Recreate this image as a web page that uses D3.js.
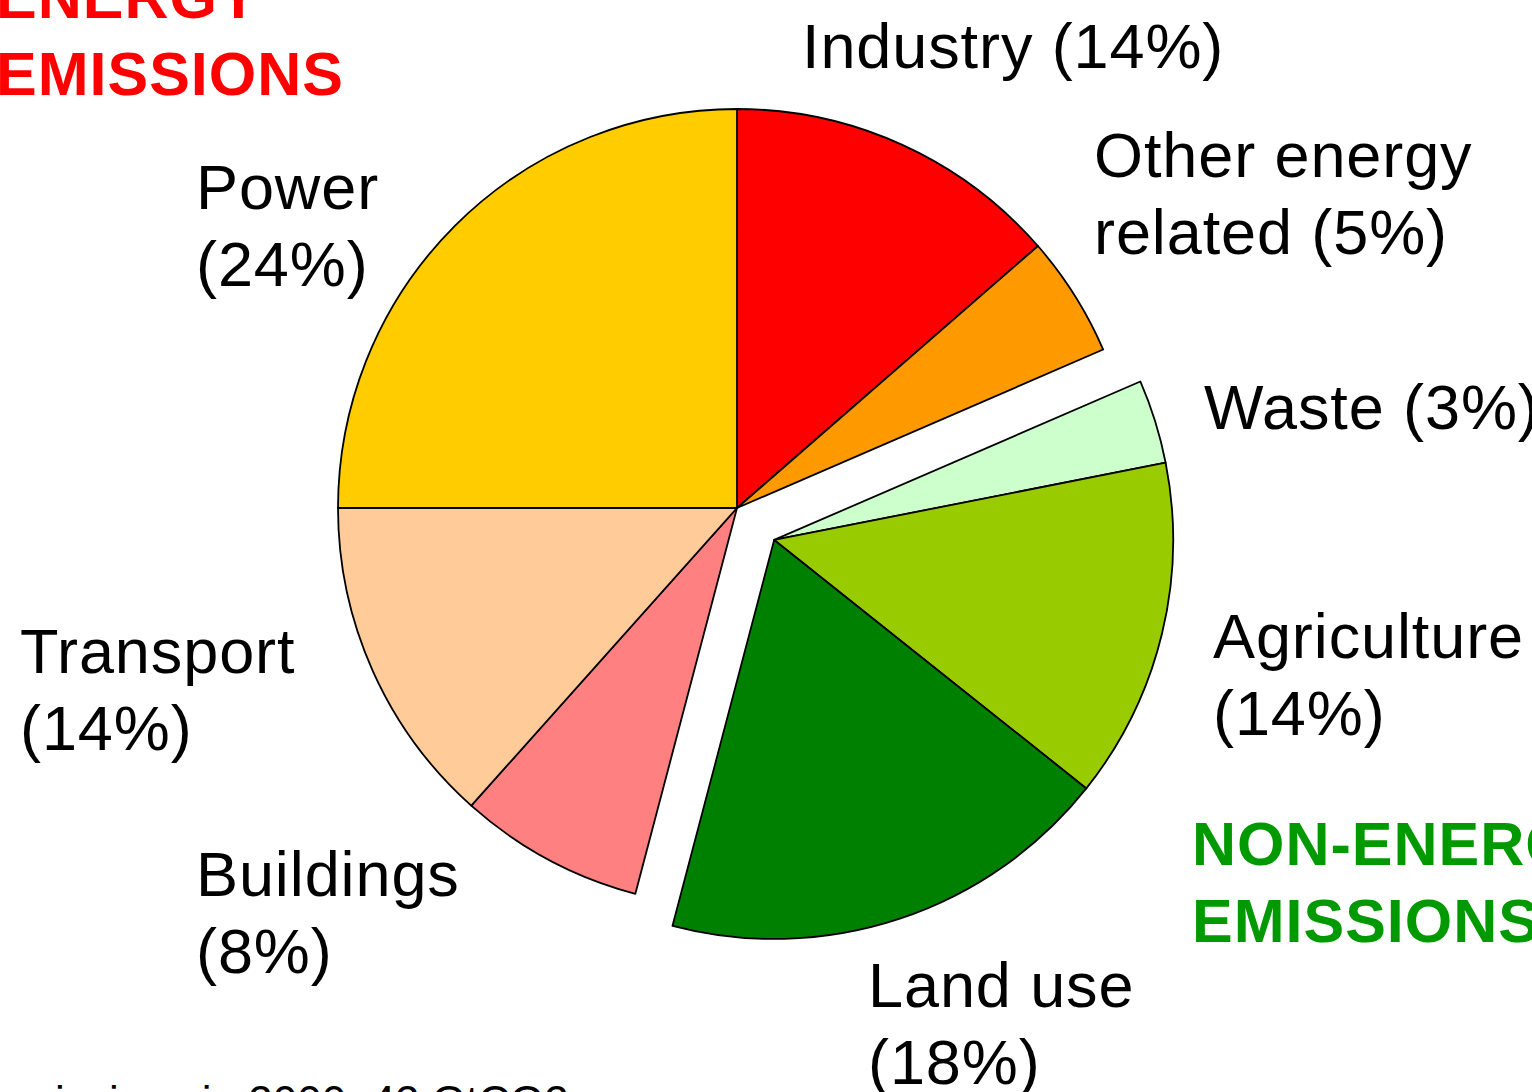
<!DOCTYPE html>
<html>
<head>
<meta charset="utf-8">
<script src="https://cdn.jsdelivr.net/npm/d3@7"></script>
<style>
  html, body { margin: 0; padding: 0; background: #fff; overflow: hidden; }
  svg { display: block; }
  text { font-family: "Liberation Sans", Arial, sans-serif; }
</style>
</head>
<body>
<script>
// Sectors, clockwise from 12 o'clock (shares)
const sectors = ['Industry', 'Other energy', 'Waste', 'Agriculture', 'Land use', 'Buildings', 'Transport', 'Power'];
const shares  = [13.6, 4.9, 3.4, 13.8, 18.4, 7.5, 13.4, 25.0];
const groups  = ['energy', 'energy', 'non', 'non', 'non', 'energy', 'energy', 'energy'];
const colors  = ['#ff0000', '#ff9900', '#ccffcc', '#99cc00', '#008000', '#ff8080', '#ffcc99', '#ffcc00'];

// label text, as printed on the chart
const labelLines = [
  ['Industry (14%)'],
  ['Other energy', 'related (5%)'],
  ['Waste (3%)'],
  ['Agriculture', '(14%)'],
  ['Land use', '(18%)'],
  ['Buildings', '(8%)'],
  ['Transport', '(14%)'],
  ['Power', '(24%)']
];
const labelPos = [
  [802, 68], [1094, 177], [1204, 429], [1213, 658],
  [868, 1007], [196, 896], [20, 673], [196, 209]
];

const groupTitles = [
  { lines: ['ENERGY', 'EMISSIONS'], color: '#ff0000', x: -4, y: 18 },
  { lines: ['NON-ENERGY', 'EMISSIONS'], color: '#009900', x: 1192, y: 865 }
];
const footnote = 'emissions in 2000: 42 GtCO2e';

const W = 1532, H = 1092;
const cx = 737, cy = 508, R = 399, explode = 49;

const svg = d3.select('body').append('svg')
  .attr('width', W).attr('height', H)
  .attr('viewBox', `0 0 ${W} ${H}`);

const data = sectors.map((s, i) => ({ name: s, value: shares[i], group: groups[i], color: colors[i] }));

const pie = d3.pie().sort(null).value(d => d.value);
const arcs = pie(data);
const arc = d3.arc().innerRadius(0).outerRadius(R);

// mid angle of the pulled-out non-energy block
const nonArcs = arcs.filter(a => a.data.group === 'non');
const midA = (d3.min(nonArcs, a => a.startAngle) + d3.max(nonArcs, a => a.endAngle)) / 2;
const offX = explode * Math.sin(midA), offY = -explode * Math.cos(midA);

const g = svg.append('g').attr('transform', `translate(${cx},${cy})`);

g.selectAll('path')
  .data(arcs)
  .join('path')
  .attr('d', arc)
  .attr('transform', d => d.data.group === 'non' ? `translate(${offX},${offY})` : null)
  .attr('fill', d => d.data.color)
  .attr('stroke', '#000')
  .attr('stroke-width', 1.8)
  .attr('stroke-linejoin', 'round');

// Sector labels
const fs = 63, lh = 77;
labelLines.forEach((lines, i) => {
  const t = svg.append('text')
    .attr('x', labelPos[i][0]).attr('y', labelPos[i][1])
    .attr('font-size', fs).attr('letter-spacing', 0.9).attr('fill', '#000');
  lines.forEach((ln, j) => {
    t.append('tspan').attr('x', labelPos[i][0]).attr('dy', j === 0 ? 0 : lh).text(ln);
  });
});

// Group headings
groupTitles.forEach(gt => {
  const t = svg.append('text')
    .attr('x', gt.x).attr('y', gt.y)
    .attr('font-size', 61).attr('font-weight', 'bold')
    .attr('letter-spacing', 1).attr('fill', gt.color);
  gt.lines.forEach((ln, j) => {
    t.append('tspan').attr('x', gt.x).attr('dy', j === 0 ? 0 : 77).text(ln);
  });
});

// footnote, cut by the bottom edge
svg.append('text')
  .attr('x', -6).attr('y', 1117)
  .attr('font-size', 44).attr('fill', '#000')
  .text(footnote);
</script>
</body>
</html>
